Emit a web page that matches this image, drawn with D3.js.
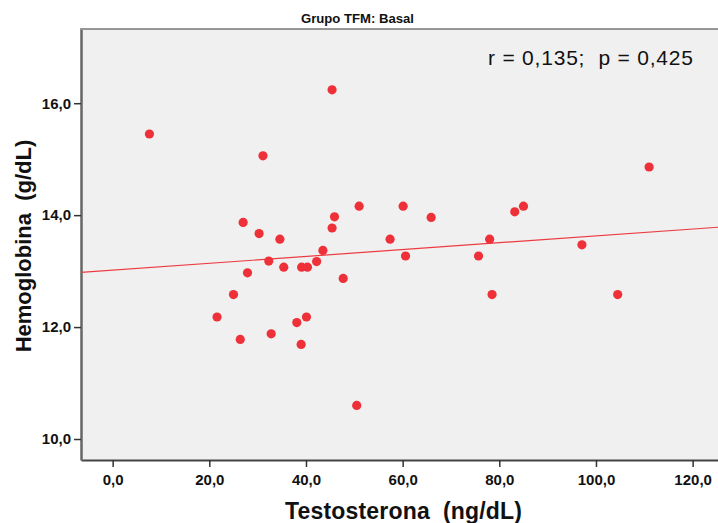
<!DOCTYPE html>
<html>
<head>
<meta charset="utf-8">
<script src="https://cdn.jsdelivr.net/npm/d3@7"></script>
<style>
  html, body { margin: 0; padding: 0; background: #ffffff; }
  svg { display: block; }
  text { white-space: pre; }
</style>
</head>
<body>
<svg id="chart" width="718" height="523"></svg>
<script>
// ---- data ----
const testosterona = [7.6, 45.4, 31.1, 51.0, 27.0, 45.9, 45.4, 30.3, 34.6, 57.4, 43.5, 32.3, 42.2,
  27.9, 35.4, 39.1, 40.3, 47.7, 25.0, 21.6, 38.1, 40.1, 26.4, 32.8, 39.0, 50.5, 60.1, 65.9, 60.6,
  75.7, 78.0, 83.2, 85.0, 78.5, 97.1, 104.5, 111.0];
const hemoglobina = [15.45, 16.24, 15.06, 14.16, 13.87, 13.97, 13.77, 13.67, 13.57, 13.57, 13.37, 13.18, 13.17,
  12.97, 13.07, 13.07, 13.07, 12.87, 12.58, 12.18, 12.08, 12.18, 11.78, 11.88, 11.69, 10.60, 14.16, 13.96, 13.27,
  13.27, 13.57, 14.06, 14.16, 12.58, 13.47, 12.58, 14.86];
const xTicks = [0, 20, 40, 60, 80, 100, 120];
const yTicks = [10, 12, 14, 16];
const titleText = "Grupo TFM: Basal";
const xTitle = "Testosterona  (ng/dL)";
const yTitle = "Hemoglobina  (g/dL)";
const statsText = "r = 0,135;  p = 0,425";

// ---- layout ----
const plot = { left: 81, right: 718, top: 29.5, bottom: 460 };
const svg = d3.select("#chart");
const fmt = v => d3.format(".1f")(v).replace(".", ",");
const fontFam = "'Liberation Sans', Arial, sans-serif";

const x = d3.scaleLinear().domain([-6.55, 125.25]).range([plot.left, plot.right]);
const y = d3.scaleLinear().domain([9.625, 17.317]).range([plot.bottom, plot.top]);

// background
svg.append("rect")
  .attr("x", plot.left).attr("y", plot.top)
  .attr("width", plot.right - plot.left).attr("height", plot.bottom - plot.top)
  .attr("fill", "#f0f0f0");

// frame top
svg.append("line")
  .attr("x1", plot.left - 1).attr("x2", plot.right)
  .attr("y1", plot.top - 0.5).attr("y2", plot.top - 0.5)
  .attr("stroke", "#333").attr("stroke-width", 1.2);

// title
svg.append("text")
  .attr("x", 301).attr("y", 23)
  .attr("textLength", 113).attr("lengthAdjust", "spacingAndGlyphs")
  .attr("font-family", fontFam)
  .attr("font-weight", "bold").attr("font-size", 12)
  .attr("fill", "#111")
  .text(titleText);

// axes
const xAxis = d3.axisBottom(x).tickValues(xTicks).tickFormat(fmt).tickSizeInner(7).tickSizeOuter(0).tickPadding(7);
const gx = svg.append("g").attr("transform", `translate(0,${plot.bottom})`).call(xAxis);
gx.select(".domain").attr("stroke", "#444").attr("stroke-width", 2);
gx.selectAll(".tick line").attr("stroke", "#333").attr("stroke-width", 1.5);
gx.selectAll(".tick text").attr("font-family", fontFam).attr("font-weight", "bold")
  .attr("font-size", 15).attr("fill", "#111");

const yAxis = d3.axisLeft(y).tickValues(yTicks).tickFormat(fmt).tickSizeInner(7).tickSizeOuter(0).tickPadding(3);
const gy = svg.append("g").attr("transform", `translate(${plot.left},0)`).call(yAxis);
gy.select(".domain").attr("stroke", "#666").attr("stroke-width", 2.5);
gy.selectAll(".tick line").attr("stroke", "#333").attr("stroke-width", 1.5);
gy.selectAll(".tick text").attr("font-family", fontFam).attr("font-weight", "bold")
  .attr("font-size", 15).attr("fill", "#111");

// axis titles
svg.append("text")
  .attr("x", 285).attr("y", 519)
  .attr("textLength", 237).attr("lengthAdjust", "spacing")
  .attr("font-family", fontFam).attr("font-weight", "bold").attr("font-size", 23)
  .attr("fill", "#111")
  .text(xTitle);

svg.append("text")
  .attr("transform", "translate(31,246) rotate(-90)")
  .attr("text-anchor", "middle")
  .attr("font-family", fontFam).attr("font-weight", "bold").attr("font-size", 22)
  .attr("fill", "#111")
  .text(yTitle);

// regression line (least squares from the data)
const mx = d3.mean(testosterona), my = d3.mean(hemoglobina);
let sxy = 0, sxx = 0;
testosterona.forEach((v, i) => { sxy += (v - mx) * (hemoglobina[i] - my); sxx += (v - mx) * (v - mx); });
const slope = sxy / sxx, intercept = my - slope * mx;
const [x0, x1] = x.domain();
svg.append("defs").append("clipPath").attr("id", "clip")
  .append("rect").attr("x", plot.left).attr("y", plot.top)
  .attr("width", plot.right - plot.left).attr("height", plot.bottom - plot.top);
svg.append("line")
  .attr("clip-path", "url(#clip)")
  .attr("x1", x(x0)).attr("y1", y(intercept + slope * x0))
  .attr("x2", x(x1)).attr("y2", y(intercept + slope * x1))
  .attr("stroke", "#ec3a40").attr("stroke-width", 1.2);

// points
svg.append("g").selectAll("circle")
  .data(testosterona.map((v, i) => ({ t: v, h: hemoglobina[i] })))
  .join("circle")
  .attr("cx", d => x(d.t)).attr("cy", d => y(d.h))
  .attr("r", 4.6)
  .attr("fill", "#ee3039");

// stats annotation
svg.append("text")
  .attr("x", 488).attr("y", 65)
  .attr("textLength", 205).attr("lengthAdjust", "spacing")
  .attr("font-family", fontFam).attr("font-size", 21)
  .attr("fill", "#111")
  .text(statsText);
</script>
</body>
</html>
